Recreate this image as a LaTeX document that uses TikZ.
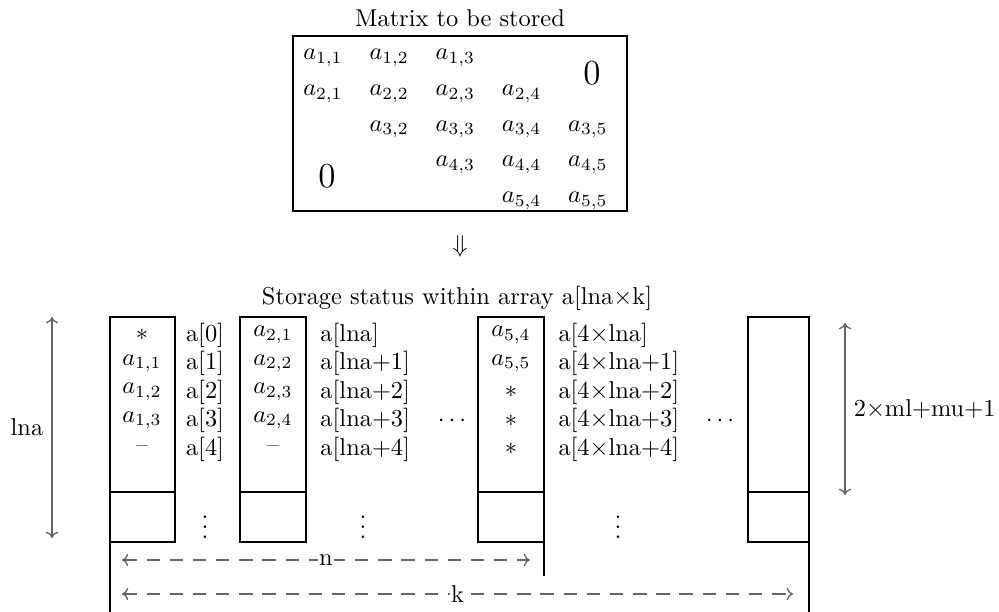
\documentclass[tikz,border=0pt]{standalone}
\usetikzlibrary{positioning,arrows.meta}
\begin{document}
\begin{tikzpicture}[x=0.41pt, y=-0.41pt,
    col/.style={line width=1.1pt},
    dim/.style={draw=black!60, {To[width=5pt,length=2.6pt]}-{To[width=5pt,length=2.6pt]}, line width=0.55pt},
    dimdash/.style={dim, dash pattern=on 5.5pt off 4pt},
    addr/.style={anchor=west, inner sep=0pt}]
  \useasboundingbox (0,0) rectangle (999,612);
  % Matrix to be stored
  \node (mtitle) at (460,18) {Matrix to be stored};
  \draw[col] (293,36) rectangle (627,211);
  \foreach \r/\c in {1/1,1/2,1/3,2/1,2/2,2/3,2/4,3/2,3/3,3/4,3/5,4/3,4/4,4/5,5/4,5/5}
    \node (m\r\c) at ({323+(\c-1)*66.2},{58+(\r-1)*35.7}) {$a_{\r,\c}$};
  \node[font=\Large] (zup) at (592,73) {$0$};
  \node[font=\Large] (zlo) at (327,176) {$0$};
  \node (down) at (460,246) {$\Downarrow$};
  % Storage in array
  \node (stitle) at (457,298) {Storage status within array a[lna$\times$k]};
  \foreach \xl/\xr in {110/175, 240/306, 478/544, 748/809} {
    \draw[col] (\xl,317) rectangle (\xr,542);
    \draw[col] (\xl,492) -- (\xr,492);
  }
  \draw[col] (110,542) -- (110,612);
  \draw[col] (544,542) -- (544,576);
  \draw[col] (809,542) -- (809,612);
  % Column contents
  \foreach \t [count=\r] in {{$*$},{$a_{1,1}$},{$a_{1,2}$},{$a_{1,3}$},{--}}
    \node (ca\r) at (142,{335+(\r-1)*28.5}) {\t};
  \foreach \t [count=\r] in {{$a_{2,1}$},{$a_{2,2}$},{$a_{2,3}$},{$a_{2,4}$},{--}}
    \node (cb\r) at (273,{335+(\r-1)*28.5}) {\t};
  \foreach \t [count=\r] in {{$a_{5,4}$},{$a_{5,5}$},{$*$},{$*$},{$*$}}
    \node (cc\r) at (511,{335+(\r-1)*28.5}) {\t};
  % Addresses
  \foreach \i [count=\r] in {0,...,4}
    \node (pa\r) at (205,{335+(\r-1)*28.5}) {a[\i]};
  \node[addr] (pb1) at (320,335) {a[lna]};
  \foreach \i [count=\r from 2] in {1,...,4}
    \node[addr] (pb\r) at (320,{335+(\r-1)*28.5}) {a[lna+\i]};
  \node[addr] (pc1) at (558,335) {a[4$\times$lna]};
  \foreach \i [count=\r from 2] in {1,...,4}
    \node[addr] (pc\r) at (558,{335+(\r-1)*28.5}) {a[4$\times$lna+\i]};
  \node (va) at (205,520) {$\vdots$};
  \node (vb) at (363,520) {$\vdots$};
  \node (vc) at (618,520) {$\vdots$};
  \node (ha) at (452,421) {$\cdots$};
  \node (hb) at (720,421) {$\cdots$};
  % Dimensions
  \coordinate (lt) at (52,317);
  \coordinate (lb) at (52,538);
  \draw[dim] (lt) -- node[left, text=black] (lna) {lna} (lb);
  \coordinate (bt) at (845,323);
  \coordinate (bb) at (845,495);
  \draw[dim] (bt) -- node[right, text=black] (bw) {2$\times$ml+mu+1} (bb);
  \coordinate (nl) at (122,560);
  \coordinate (nr) at (530,560);
  \draw[dimdash] (nl) -- node[fill=white, inner sep=0.5pt, text=black] (nlbl) {n} (nr);
  \coordinate (kl) at (122,594);
  \coordinate (kr) at (793,594);
  \draw[dimdash] (kl) -- node[fill=white, inner sep=0.5pt, text=black] (klbl) {k} (kr);
\end{tikzpicture}
\end{document}
